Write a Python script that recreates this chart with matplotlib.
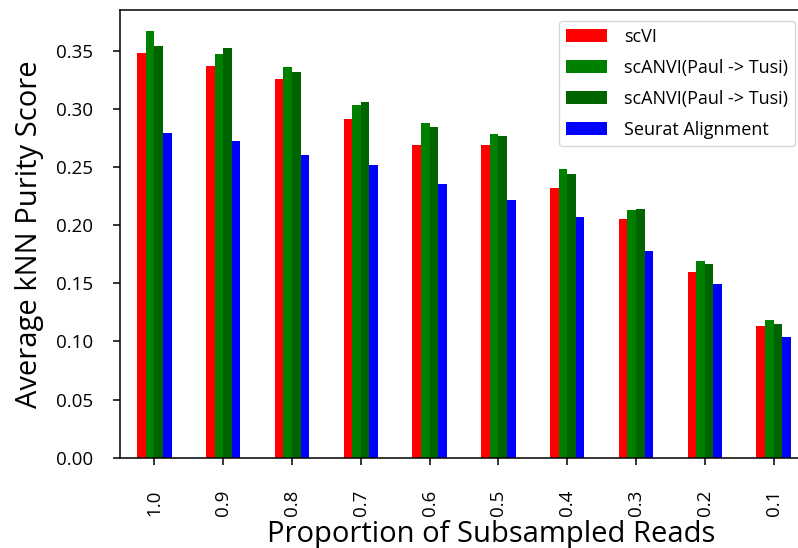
import matplotlib
matplotlib.use("Agg")
import matplotlib.pyplot as plt
import numpy as np

plt.rcParams['font.family'] = ['Open Sans', 'DejaVu Sans']

# Proportion of reads kept after subsampling
proportions = ["1.0", "0.9", "0.8", "0.7", "0.6", "0.5", "0.4", "0.3", "0.2", "0.1"]

# Average kNN purity per method
scvi = [0.348, 0.337, 0.326, 0.291, 0.269, 0.269, 0.232, 0.205, 0.160, 0.113]
scanvi_a = [0.367, 0.347, 0.336, 0.303, 0.288, 0.278, 0.248, 0.213, 0.169, 0.118]
scanvi_b = [0.354, 0.352, 0.332, 0.306, 0.284, 0.277, 0.244, 0.214, 0.167, 0.115]
seurat = [0.279, 0.272, 0.260, 0.252, 0.235, 0.222, 0.207, 0.178, 0.149, 0.104]

series = [
    ("scVI", scvi, "red"),
    ("scANVI(Paul -> Tusi)", scanvi_a, "green"),
    ("scANVI(Paul -> Tusi)", scanvi_b, "darkgreen"),
    ("Seurat Alignment", seurat, "blue"),
]

W, H = 798, 548
fig = plt.figure(figsize=(W / 100, H / 100), dpi=100)
ax = fig.add_axes([120 / W, 1 - 457.7 / H, (808 - 120) / W, (457.7 - 10) / H])

x = np.arange(len(proportions))
bar_w = 0.5 / len(series)
for k, (name, vals, col) in enumerate(series):
    offset = (k - (len(series) - 1) / 2) * bar_w
    ax.bar(x + offset, vals, width=bar_w, color=col, label=name)

ax.set_xlim(-0.5, len(proportions) - 0.5)
ax.set_ylim(0, 0.385)
ax.set_yticks(np.arange(0, 0.36, 0.05))
ax.yaxis.set_major_formatter(matplotlib.ticker.FormatStrFormatter('%.2f'))
ax.set_xticks(x)
ax.set_xticklabels(proportions, rotation=90)

for s in ax.spines.values():
    s.set_linewidth(1.1)
ax.tick_params(axis='both', labelsize=13.5, length=5.3, width=1.1)
ax.tick_params(axis='x', pad=18)
ax.tick_params(axis='y', pad=14)

ax.set_xlabel("Proportion of Subsampled Reads", fontsize=21)
ax.xaxis.set_label_coords(491.5 / W, 1 - 520 / H, transform=fig.transFigure)
ax.set_ylabel("Average kNN Purity Score", fontsize=21)
ax.yaxis.set_label_coords(44 / W, 1 - 234 / H, transform=fig.transFigure)

ax.legend(loc='upper right', bbox_to_anchor=(795 / W, 1 - 20.7 / H),
          bbox_transform=fig.transFigure, borderaxespad=0, fontsize=13,
          handlelength=2.25, handleheight=0.72, handletextpad=0.93,
          labelspacing=0.72)

fig.savefig("out.png", dpi=100)
